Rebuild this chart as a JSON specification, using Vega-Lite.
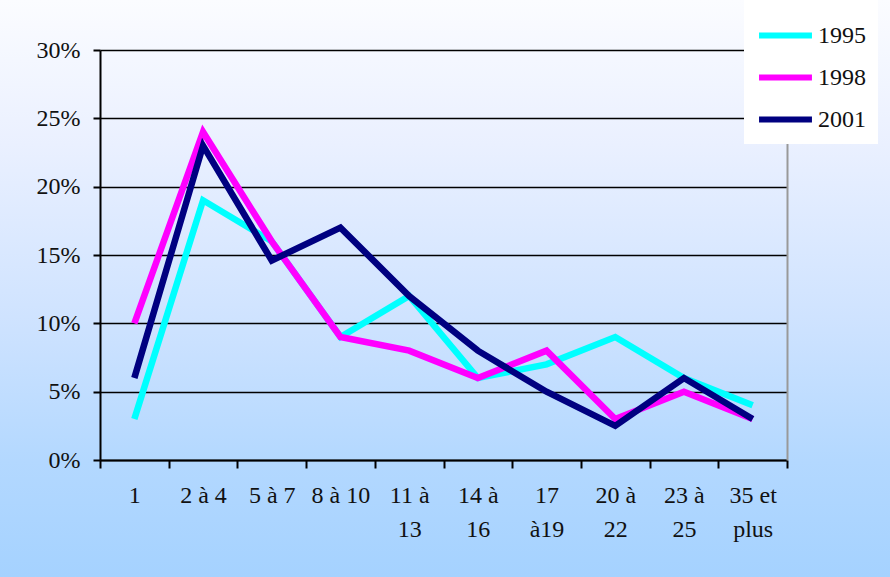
{
  "$schema": "https://vega.github.io/schema/vega-lite/v6.json",
  "width": 890,
  "height": 577,
  "autosize": {"type": "none"},
  "padding": 0,
  "background": "#ffffff",
  "config": {
    "view": {
      "stroke": null,
      "fill": {
        "gradient": "linear",
        "x1": 0, "y1": 0, "x2": 0, "y2": 1,
        "stops": [
          {"offset": 0, "color": "#fbfcff"},
          {"offset": 0.25, "color": "#eaf0ff"},
          {"offset": 0.55, "color": "#cfe3ff"},
          {"offset": 0.8, "color": "#b3d8ff"},
          {"offset": 1, "color": "#a5d2ff"}
        ]
      }
    },
    "font": "Liberation Serif"
  },
  "data": {
    "values": [
      {"age": "1", "year": "1995", "pct": 0.03},
      {"age": "2 à 4", "year": "1995", "pct": 0.19},
      {"age": "5 à 7", "year": "1995", "pct": 0.16},
      {"age": "8 à 10", "year": "1995", "pct": 0.09},
      {"age": "11 à\n13", "year": "1995", "pct": 0.12},
      {"age": "14 à\n16", "year": "1995", "pct": 0.06},
      {"age": "17\nà19", "year": "1995", "pct": 0.07},
      {"age": "20 à\n22", "year": "1995", "pct": 0.09},
      {"age": "23 à\n25", "year": "1995", "pct": 0.06},
      {"age": "35 et\nplus", "year": "1995", "pct": 0.04},
      {"age": "1", "year": "1998", "pct": 0.10},
      {"age": "2 à 4", "year": "1998", "pct": 0.24},
      {"age": "5 à 7", "year": "1998", "pct": 0.16},
      {"age": "8 à 10", "year": "1998", "pct": 0.09},
      {"age": "11 à\n13", "year": "1998", "pct": 0.08},
      {"age": "14 à\n16", "year": "1998", "pct": 0.06},
      {"age": "17\nà19", "year": "1998", "pct": 0.08},
      {"age": "20 à\n22", "year": "1998", "pct": 0.03},
      {"age": "23 à\n25", "year": "1998", "pct": 0.05},
      {"age": "35 et\nplus", "year": "1998", "pct": 0.03},
      {"age": "1", "year": "2001", "pct": 0.06},
      {"age": "2 à 4", "year": "2001", "pct": 0.23},
      {"age": "5 à 7", "year": "2001", "pct": 0.146},
      {"age": "8 à 10", "year": "2001", "pct": 0.17},
      {"age": "11 à\n13", "year": "2001", "pct": 0.12},
      {"age": "14 à\n16", "year": "2001", "pct": 0.08},
      {"age": "17\nà19", "year": "2001", "pct": 0.05},
      {"age": "20 à\n22", "year": "2001", "pct": 0.025},
      {"age": "23 à\n25", "year": "2001", "pct": 0.06},
      {"age": "35 et\nplus", "year": "2001", "pct": 0.03}
    ]
  },
  "layer": [
    {
      "mark": {"type": "line", "strokeWidth": 6.5},
      "encoding": {
        "x": {
          "field": "age", "type": "nominal", "sort": null, "bandPosition": 0.5,
          "scale": {"type": "band", "range": [100, 787], "paddingInner": 0, "paddingOuter": 0},
          "axis": {
            "orient": "bottom", "offset": -117, "title": null, "labelAngle": 0,
            "tickBand": "extent", "tickSize": 8, "tickColor": "#000", "tickWidth": 2,
            "domainColor": "#000", "domainWidth": 2,
            "labelFont": "Liberation Serif", "labelFontSize": 24, "labelColor": "#111",
            "labelPadding": 15, "labelLineHeight": 34, "labelOverlap": false,
            "labelExpr": "split(datum.label, '\\n')"
          }
        },
        "y": {
          "field": "pct", "type": "quantitative",
          "scale": {"domain": [0, 0.3], "range": [460, 50], "nice": false, "zero": true},
          "axis": {
            "orient": "left", "offset": -100, "title": null,
            "values": [0, 0.05, 0.1, 0.15, 0.2, 0.25, 0.3], "format": ".0%",
            "grid": true, "gridColor": "#000", "gridWidth": 1.5, "gridOpacity": 1,
            "tickSize": 7, "tickColor": "#000", "tickWidth": 2,
            "domainColor": "#000", "domainWidth": 2,
            "labelFont": "Liberation Serif", "labelFontSize": 24, "labelColor": "#111",
            "labelPadding": 13
          }
        },
        "color": {
          "field": "year", "type": "nominal",
          "scale": {"domain": ["1995", "1998", "2001"], "range": ["#00ffff", "#ff00ff", "#000080"]},
          "legend": {
            "orient": "none", "legendX": 744, "legendY": -6, "title": null,
            "fillColor": "#ffffff", "padding": 12,
            "symbolType": "stroke", "symbolStrokeWidth": 6, "symbolSize": 2800,
            "labelFont": "Liberation Serif", "labelFontSize": 24, "labelColor": "#111",
            "labelOffset": 3, "rowPadding": 0
          }
        }
      }
    },
    {
      "mark": {"type": "line", "opacity": 0},
      "encoding": {
        "x": {"field": "age", "type": "nominal", "sort": null, "bandPosition": 0.5},
        "y": {
          "field": "pct", "type": "quantitative",
          "axis": {
            "orient": "right", "offset": -103, "title": null, "labels": false, "ticks": false,
            "grid": false, "domainColor": "#999999", "domainWidth": 2
          }
        }
      }
    }
  ],
  "resolve": {"axis": {"y": "independent"}}
}
